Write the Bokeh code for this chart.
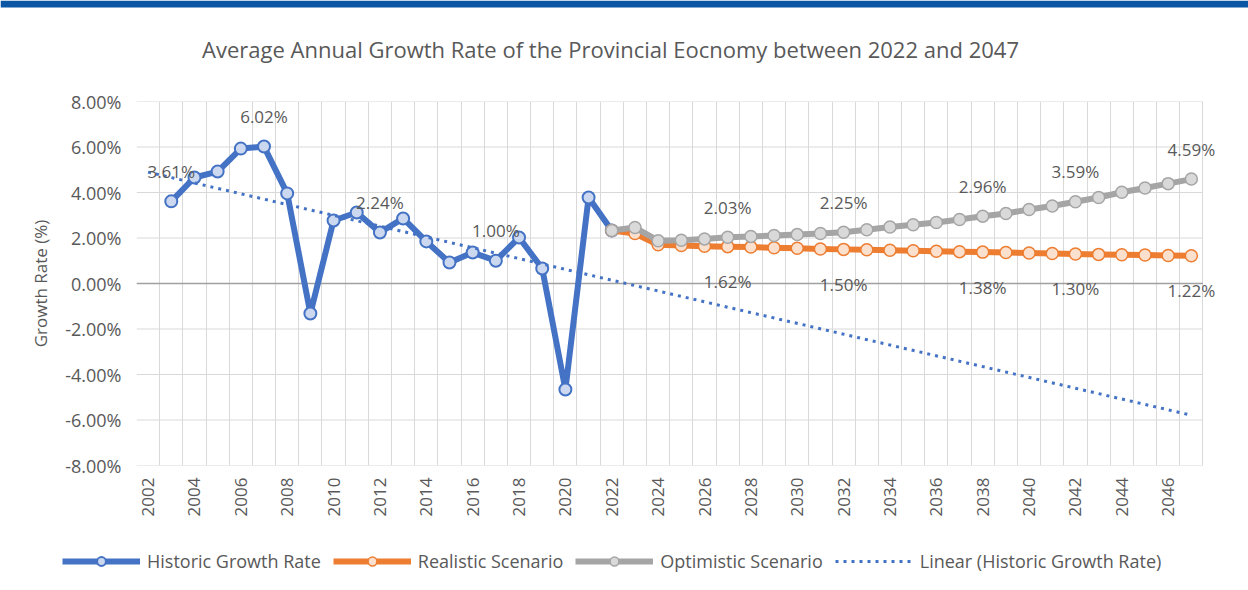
import math
import numpy as np
from bokeh.plotting import figure
from bokeh.layouts import column
from bokeh.models import (Range1d, FixedTicker, PrintfTickFormatter, Label, BoxAnnotation,
                          LabelSet, ColumnDataSource, Legend, LegendItem)
from bokeh.core.properties import value
from bokeh.embed import file_html
from bokeh.resources import INLINE

# ---------------- data ----------------
title_text = "Average Annual Growth Rate of the Provincial Eocnomy between 2022 and 2047"
y_axis_title = "Growth Rate (%)"

hist_years = list(range(2003, 2023))
hist_values = [3.61, 4.66, 4.92, 5.93, 6.02, 3.96, -1.32, 2.77, 3.12, 2.24,
               2.86, 1.85, 0.92, 1.36, 1.00, 2.02, 0.66, -4.66, 3.78, 2.33]

scen_years = list(range(2022, 2048))
realistic_values = [2.33, 2.20, 1.70, 1.67, 1.64, 1.62, 1.60, 1.57, 1.55, 1.52,
                    1.50, 1.48, 1.46, 1.44, 1.42, 1.40, 1.38, 1.36, 1.34, 1.32,
                    1.30, 1.28, 1.26, 1.25, 1.23, 1.22]
optimistic_values = [2.33, 2.46, 1.88, 1.90, 1.96, 2.03, 2.07, 2.11, 2.15, 2.20,
                     2.25, 2.36, 2.48, 2.58, 2.68, 2.81, 2.96, 3.08, 3.25, 3.41,
                     3.59, 3.78, 4.01, 4.20, 4.39, 4.59]

hist_label_years = [2003, 2007, 2012, 2017]
scen_label_years = [2027, 2032, 2038, 2042, 2047]

x_first, x_last = 2002, 2047
y_ticks = [-8, -6, -4, -2, 0, 2, 4, 6, 8]
x_tick_years = list(range(2002, 2047, 2))

series_names = ["Historic Growth Rate", "Realistic Scenario", "Optimistic Scenario",
                "Linear (Historic Growth Rate)"]

# linear trendline of the historic series (Excel "Linear" trendline), extended to 2047
slope, intercept = np.polyfit(hist_years, hist_values, 1)
trend_years = [x_first, x_last]
trend_values = [slope * x + intercept for x in trend_years]

# ---------------- style ----------------
FONT = "Open Sans"
TXT = "#595959"
BLUE, BLUE_F = "#4472C4", "#CCD8EF"
ORANGE, ORANGE_F = "#ED7D31", "#FBE0CD"
GRAY, GRAY_F = "#A5A5A5", "#D9D9D9"
GRID = "#D9D9D9"
FRAME_BLUE = "#0B55A5"
W = 1248
TITLE_H, MAIN_H, LEG_H = 70, 470, 50


def strip(height):
    f = figure(width=W, height=height, output_backend="svg", toolbar_location=None,
               x_axis_location=None, y_axis_location=None, min_border=0,
               x_range=Range1d(0, 1), y_range=Range1d(0, 1))
    f.outline_line_color = None
    f.xgrid.grid_line_color = None
    f.ygrid.grid_line_color = None
    try:
        f.frame_align = False
    except Exception:
        pass
    return f


# ---------------- title strip ----------------
t_fig = strip(TITLE_H)
# thin blue slide band along the top edge
t_fig.add_layout(BoxAnnotation(bottom=1 - 7 / TITLE_H, fill_color=FRAME_BLUE, fill_alpha=1,
                               line_alpha=0))
t_fig.add_layout(Label(x=610, y=TITLE_H - 48, x_units="screen", y_units="screen",
                       text=title_text, text_align="center", text_baseline="middle",
                       text_font=FONT, text_font_size="22px", text_color=TXT))

# ---------------- main chart ----------------
x_lo, x_hi = x_first - 0.5, x_last + 0.5
p = figure(width=W, height=MAIN_H, output_backend="svg", toolbar_location=None,
           x_range=Range1d(x_lo, x_hi + 0.8), y_range=Range1d(-8, 8),
           min_border_left=136, min_border_right=27, min_border_top=101 - TITLE_H,
           min_border_bottom=TITLE_H + MAIN_H - 465,
           background_fill_color="white", border_fill_color="white")
p.outline_line_color = None

# grid: vertical lines at category boundaries, horizontal lines across the categories only
p.xgrid.ticker = FixedTicker(ticks=list(np.arange(x_lo, x_hi + 0.5, 1.0)))
p.xgrid.grid_line_color = GRID
p.xgrid.grid_line_width = 1
p.ygrid.grid_line_color = None
p.segment(x0=[x_lo] * len(y_ticks), y0=y_ticks, x1=[x_hi] * len(y_ticks), y1=y_ticks,
          line_color=GRID, line_width=1)
p.segment(x0=[x_lo], y0=[0], x1=[x_hi], y1=[0], line_color="#A0A0A0", line_width=1.5)

# axes
p.xaxis.ticker = FixedTicker(ticks=x_tick_years)
p.xaxis.major_label_orientation = math.pi / 2
p.yaxis.ticker = FixedTicker(ticks=y_ticks)
p.yaxis.formatter = PrintfTickFormatter(format="%.2f%%")
for ax in (p.xaxis, p.yaxis):
    ax.axis_line_color = None
    ax.major_tick_line_color = None
    ax.minor_tick_line_color = None
    ax.major_tick_out = 0
    ax.major_tick_in = 0
    ax.minor_tick_out = 0
    ax.major_label_text_font = FONT
    ax.major_label_text_font_size = "17px"
    ax.major_label_text_color = TXT
p.yaxis.major_label_text_font_size = "18px"
p.xaxis.major_label_standoff = 12
p.yaxis.major_label_standoff = 15
p.yaxis.axis_label = y_axis_title
p.yaxis.axis_label_text_font = FONT
p.yaxis.axis_label_text_font_size = "17px"
p.yaxis.axis_label_text_font_style = "normal"
p.yaxis.axis_label_text_color = TXT
p.yaxis.axis_label_standoff = 10

# series
h_line = p.line(hist_years, hist_values, line_color=BLUE, line_width=6, line_join="round")
h_pts = p.scatter(hist_years, hist_values, size=12, fill_color=BLUE_F, line_color=BLUE, line_width=2)
r_line = p.line(scen_years, realistic_values, line_color=ORANGE, line_width=6, line_join="round")
r_pts = p.scatter(scen_years, realistic_values, size=12, fill_color=ORANGE_F, line_color=ORANGE, line_width=1.5)
o_line = p.line(scen_years, optimistic_values, line_color=GRAY, line_width=6, line_join="round")
o_pts = p.scatter(scen_years, optimistic_values, size=12, fill_color=GRAY_F, line_color=GRAY, line_width=1.5)
t_line = p.line(trend_years, trend_values, line_color=BLUE, line_width=3, line_dash="3 5")

# data labels
def lbl_source(years, xs, vals):
    ys = [vals[xs.index(y)] for y in years]
    return ColumnDataSource(dict(x=years, y=ys, t=["%.2f%%" % v for v in ys]))

label_kw = dict(x="x", y="y", text="t", text_align="center", text_baseline="middle",
                text_font=value(FONT), text_font_size=value("17px"), text_color=TXT)
p.add_layout(LabelSet(source=lbl_source(hist_label_years, hist_years, hist_values),
                      y_offset=30, **label_kw))
p.add_layout(LabelSet(source=lbl_source(scen_label_years, scen_years, optimistic_values),
                      y_offset=30, **label_kw))
p.add_layout(LabelSet(source=lbl_source(scen_label_years, scen_years, realistic_values),
                      y_offset=-35, **label_kw))

# ---------------- legend strip ----------------
l_fig = strip(LEG_H)
# swatch renderers: one point each, placed outside the strip's visible range
sx, sy = [-5, -4], [-5, -5]
lh_line = l_fig.line(sx, sy, line_color=BLUE, line_width=6)
lh_pts = l_fig.scatter(sx, sy, fill_color=BLUE_F, line_color=BLUE, line_width=2)
lr_line = l_fig.line(sx, sy, line_color=ORANGE, line_width=6)
lr_pts = l_fig.scatter(sx, sy, fill_color=ORANGE_F, line_color=ORANGE, line_width=1.5)
lo_line = l_fig.line(sx, sy, line_color=GRAY, line_width=6)
lo_pts = l_fig.scatter(sx, sy, fill_color=GRAY_F, line_color=GRAY, line_width=1.5)
lt_line = l_fig.line(sx, sy, line_color=BLUE, line_width=3, line_dash="3 5")

legend = Legend(items=[
    LegendItem(label=series_names[0], renderers=[lh_line, lh_pts]),
    LegendItem(label=series_names[1], renderers=[lr_line, lr_pts]),
    LegendItem(label=series_names[2], renderers=[lo_line, lo_pts]),
    LegendItem(label=series_names[3], renderers=[lt_line]),
], orientation="horizontal", location=(62, 17))
legend.glyph_width = 78
legend.glyph_height = 22
legend.label_standoff = 7
legend.spacing = 12
legend.padding = 0
legend.margin = 0
legend.border_line_color = None
legend.background_fill_alpha = 0
legend.label_text_font = FONT
legend.label_text_font_size = "18px"
legend.label_text_color = TXT
l_fig.add_layout(legend, "center")

layout = column(t_fig, p, l_fig, spacing=0)
open("out.html", "w").write(file_html(layout, INLINE))
